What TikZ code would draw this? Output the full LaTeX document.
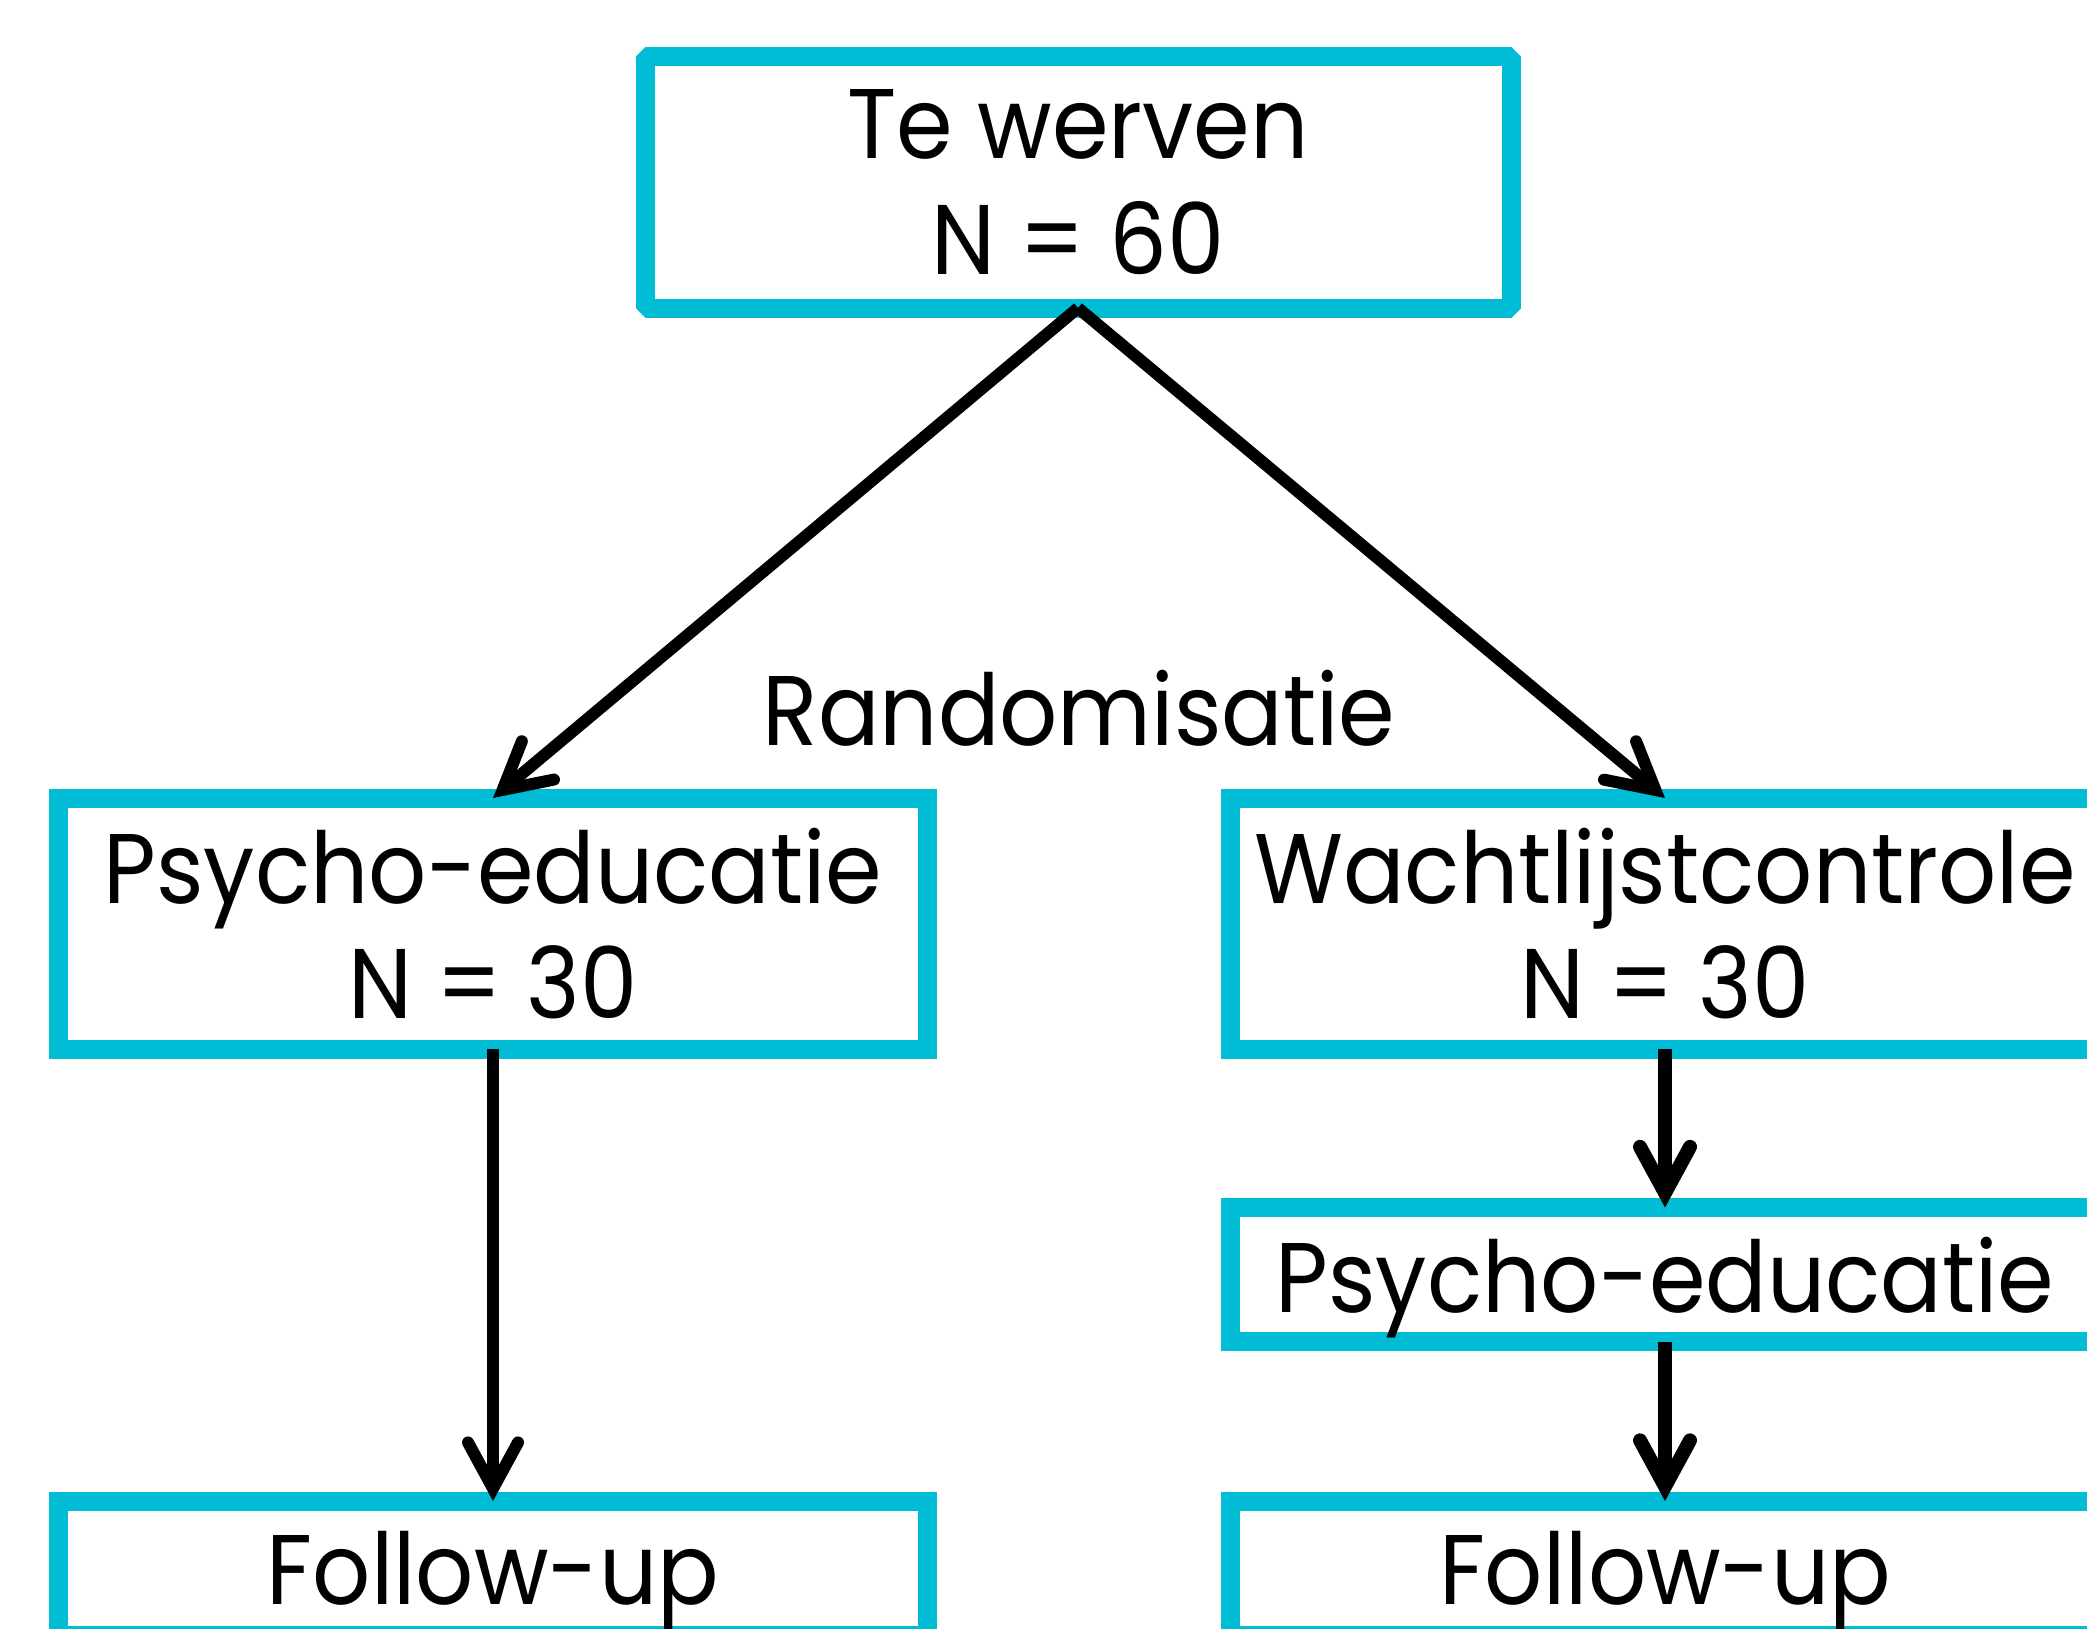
\documentclass[tikz,border=0pt]{standalone}
\usepackage{fontspec}
\setmainfont{Poppins}[FakeStretch=0.92]
\usetikzlibrary{arrows.meta}
\definecolor{boxcyan}{HTML}{00BCD4}
\newcommand\txtfont{\fontsize{99}{115.5}\selectfont}
\begin{document}
\begin{tikzpicture}[x=1pt,y=-1pt,
  box/.style={draw=boxcyan, line width=19pt, rectangle, outer sep=0pt, inner sep=0pt,
    minimum width=869pt, align=center, font=\txtfont, text depth=0pt},
  arr/.style={line width=12pt,
    -{Straight Barb[length=46pt,width=50pt,line cap=round,line join=miter]}},
  arrthick/.style={arr, line width=14pt},
]
\clip (0,0) rectangle (2087,1628);
\fill[white] (0,0) rectangle (2087,1628);
\node[box, minimum width=866pt, minimum height=252pt, line join=bevel] (top) at (1078,182) {Te werven\\N = 60};
\node[box, minimum height=251pt] (pe) at (493,923.5) {Psycho-educatie\\N = 30};
\node[box, minimum height=251pt] (wl) at (1665,923.5) {Wachtlijstcontrole\\N = 30};
\node[box, minimum height=134pt] (pe2) at (1665,1274.5) {Psycho-educatie};
\node[box, minimum height=134pt] (fu1) at (493,1568) {Follow-up};
\node[box, minimum height=134pt] (fu2) at (1665,1568) {Follow-up};
\node[font=\txtfont, anchor=base, inner sep=0pt] (rnd) at (1079,745) {Randomisatie};
\draw[arr] (top.south) -- (pe.north);
\draw[arr] (top.south) -- (wl.north);
\draw[arr] (pe.south) -- (fu1.north);
\draw[arrthick] (wl.south) -- (pe2.north);
\draw[arrthick] (pe2.south) -- (fu2.north);
\end{tikzpicture}
\end{document}
